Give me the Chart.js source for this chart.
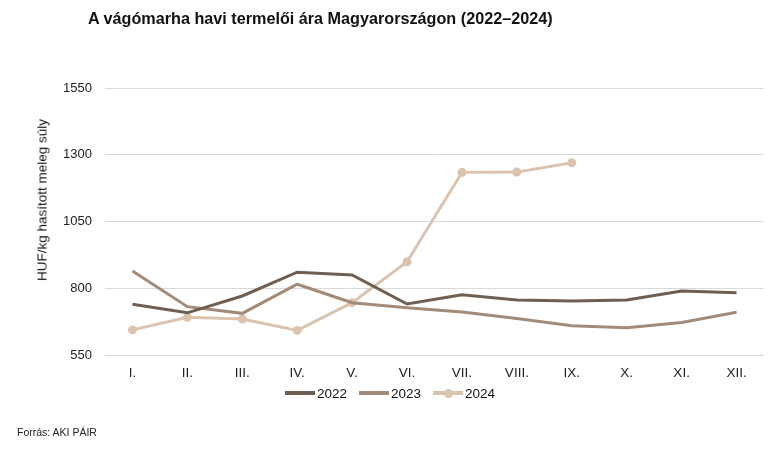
<!DOCTYPE html>
<html>
<head>
<meta charset="utf-8">
<script src="https://cdn.jsdelivr.net/npm/chart.js@4/dist/chart.umd.min.js"></script>
<style>
  body { margin: 0; background: #fff; font-family: "Liberation Sans", Arial, sans-serif; }
  #wrap { position: relative; width: 772px; height: 463px; }
  #title { position: absolute; left: 88px; top: 9px; font-size: 16.2px; font-weight: bold; color: #111; }
  #ytitle { position: absolute; left: 42px; top: 200px; font-size: 13.5px; color: #111; white-space: nowrap;
            transform: translate(-50%, -50%) rotate(-90deg); }
  #legend { position: absolute; left: 285px; top: 384px; height: 18px; display: flex; align-items: center;
            font-size: 13.5px; color: #111; }
  .item { display: flex; align-items: center; margin-right: 12px; }
  .swatch { position: relative; width: 30px; height: 4px; margin-right: 2px; }
  .dot { position: absolute; left: 11px; top: -2.5px; width: 9px; height: 9px; border-radius: 50%; }
  #source { position: absolute; left: 17px; top: 426px; font-size: 10.5px; color: #222; }
</style>
</head>
<body>
<div id="wrap">
  <canvas id="chart" width="772" height="463"></canvas>
  <div id="title">A vágómarha havi termelői ára Magyarországon (2022–2024)</div>
  <div id="ytitle">HUF/kg hasított meleg súly</div>
  <div id="legend"></div>
  <div id="source">Forrás: AKI PÁIR</div>
</div>
<script>
// Monthly data, HUF/kg
const months = ["I.", "II.", "III.", "IV.", "V.", "VI.", "VII.", "VIII.", "IX.", "X.", "XI.", "XII."]
const prices2022 = [740, 708, 771, 860, 850, 741, 776, 756, 752, 756, 790, 783]
const prices2023 = [865, 731, 706, 815, 746, 727, 711, 687, 660, 652, 672, 710]
const prices2024 = [644, 691, 685, 642, 746, 899, 1234, 1235, 1270, null, null, null]
const yTicks = [550, 800, 1050, 1300, 1550]

const COLORS = { y2022: "#6f5f53", y2023: "#a38b78", y2024: "#dcc3ad" }

const chart = new Chart(document.getElementById("chart"), {
  type: "line",
  data: {
    labels: months,
    datasets: [
      { label: "2022", data: prices2022, borderColor: COLORS.y2022, backgroundColor: COLORS.y2022, borderWidth: 3, pointRadius: 0, tension: 0 },
      { label: "2023", data: prices2023, borderColor: COLORS.y2023, backgroundColor: COLORS.y2023, borderWidth: 3, pointRadius: 0, tension: 0 },
      { label: "2024", data: prices2024, borderColor: COLORS.y2024, backgroundColor: COLORS.y2024, borderWidth: 3, pointRadius: 4.5, pointBorderWidth: 0, tension: 0 },
    ],
  },
  options: {
    responsive: false,
    animation: false,
    layout: { padding: { left: 28, right: 8, top: 88, bottom: 82 } },
    plugins: {
      legend: { display: false },
      tooltip: { enabled: false },
    },
    scales: {
      x: {
        offset: true,
        grid: { display: false },
        border: { display: false },
        ticks: { color: "#222", font: { family: "Liberation Sans", size: 13.5 }, padding: 2 },
        afterFit: (s) => { s.height = 26 },
      },
      y: {
        min: 550,
        max: 1550,
        afterBuildTicks: (s) => { s.ticks = yTicks.map((v) => ({ value: v })) },
        grid: { color: "#d9d9d9", lineWidth: 1, drawTicks: false },
        border: { display: false },
        ticks: { color: "#222", font: { family: "Liberation Sans", size: 13 }, padding: 13, callback: (v) => String(v) },
        afterFit: (s) => { s.width = 77 },
      },
    },
  },
})

// legend built from the chart's datasets
const legendEl = document.getElementById("legend")
chart.data.datasets.forEach((ds) => {
  const item = document.createElement("div")
  item.className = "item"
  const swatch = document.createElement("span")
  swatch.className = "swatch"
  swatch.style.background = ds.borderColor
  if (ds.pointRadius) {
    const dot = document.createElement("span")
    dot.className = "dot"
    dot.style.background = ds.borderColor
    swatch.appendChild(dot)
  }
  const text = document.createElement("span")
  text.textContent = ds.label
  item.appendChild(swatch)
  item.appendChild(text)
  legendEl.appendChild(item)
})
</script>
</body>
</html>
